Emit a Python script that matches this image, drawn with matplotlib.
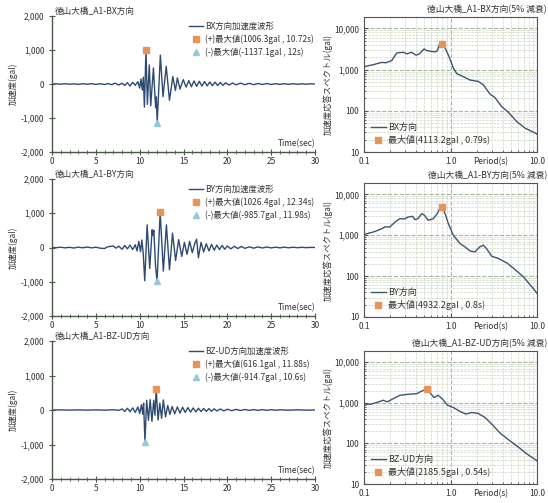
import matplotlib
matplotlib.use("Agg")
import matplotlib.pyplot as plt
from matplotlib.ticker import FuncFormatter, FixedLocator, LogLocator, NullFormatter, MultipleLocator

plt.rcParams['font.family'] = ['Noto Sans CJK JP', 'DejaVu Sans']
plt.rcParams['axes.unicode_minus'] = False

# ---- acceleration time histories (sec, gal) ----
bx_t = [0, 0.5, 1.0, 1.5, 2.0, 2.5, 3.0, 3.5, 4.0, 4.5, 5.0, 5.5, 6.0, 6.4, 6.8, 7.2, 7.6, 8.0, 8.3, 8.6,
        8.9, 9.2, 9.5, 9.8, 10.0, 10.15, 10.3, 10.42, 10.54, 10.72, 10.88, 11.1, 11.26, 11.57, 11.82, 11.9,
        12.0, 12.36, 12.66, 13.03, 13.4, 13.78, 14.08, 14.3, 14.6, 14.97, 15.3, 15.6, 15.9, 16.2, 16.5, 16.8,
        17.1, 17.4, 17.7, 18.0, 18.3, 18.6, 18.9, 19.2, 19.5, 19.8, 20.2, 20.6, 21.0, 21.5, 22.0, 22.5, 23.0,
        23.5, 24.0, 24.5, 25.0, 25.5, 26.0, 26.5, 27.0, 27.5, 28.0, 28.5, 29.0, 29.5, 30.0]
bx_a = [0, 5, -5, 8, -6, 5, -10, 8, -5, 10, -12, 8, -15, 12, -20, 25, -30, 20, -45, 40,
        -60, 50, -40, 70, -120, 150, -180, 200, -680, 1006.3, -600, 560, -640, 470, -700, -380,
        -1137.1, 850, -370, 520, -480, 220, -190, 180, -150, 130, -90, 100, -80, 90, -70, 80,
        -60, 70, -55, 60, -50, 55, -45, 45, -40, 35, -30, 30, -25, 25, -20, 20, -20,
        15, -15, 15, -15, 10, -12, 10, -10, 8, -8, 6, -6, 5, 0]

by_t = [0, 0.5, 1.0, 1.5, 2.0, 2.5, 3.0, 3.5, 4.0, 4.5, 5.0, 5.5, 6.0, 6.3, 6.6, 7.0, 7.3, 7.6, 8.0, 8.3,
        8.6, 8.9, 9.2, 9.5, 9.7, 9.9, 10.1, 10.25, 10.4, 10.58, 10.85, 11.15, 11.42, 11.5, 11.62, 11.8,
        11.98, 12.34, 12.7, 13.05, 13.4, 13.75, 14.1, 14.45, 14.8, 15.1, 15.4, 15.7, 16.0, 16.3, 16.5, 16.7,
        17.0, 17.3, 17.6, 17.9, 18.2, 18.5, 18.8, 19.1, 19.4, 19.7, 20.0, 20.4, 20.8, 21.2, 21.6, 22.0, 22.5,
        23.0, 23.5, 24.0, 24.5, 25.0, 25.5, 26.0, 26.5, 27.0, 27.5, 28.0, 28.5, 29.0, 29.5, 30.0]
by_a = [0, -5, 8, -10, 5, -15, 10, -8, 12, -10, 8, -20, -30, 15, 30, 45, -20, 40, -50, 60,
        -40, 70, -60, 80, -100, 180, -120, 220, -150, -970, 660, -610, 520, 350, 500, -500,
        -985.7, 1026.4, -690, 660, -650, 420, -380, 230, -260, 150, -200, 180, -150, 130, 240, -300,
        150, -130, 110, -100, 90, -80, 70, -60, 60, -50, 45, -40, 35, -30, 30, -25, 20,
        -20, 18, -15, 15, -12, 10, -10, 10, -8, 8, -6, 6, -5, 4, 0]

bz_t = [0, 1, 2, 3, 4, 5, 6, 7, 7.6, 8.0, 8.3, 8.6, 8.9, 9.2, 9.5, 9.8, 10.0, 10.2, 10.35, 10.45,
        10.6, 10.8, 11.0, 11.2, 11.4, 11.6, 11.75, 11.88, 12.1, 12.3, 12.5, 12.7, 12.95, 13.2, 13.45, 13.7,
        14.0, 14.3, 14.6, 14.9, 15.2, 15.5, 15.8, 16.1, 16.4, 16.7, 17.0, 17.3, 17.6, 17.9, 18.2, 18.5,
        18.8, 19.2, 19.6, 20.0, 20.5, 21.0, 21.5, 22.0, 22.5, 23.0, 23.5, 24.0, 24.5, 25.0, 25.5, 26.0,
        27.0, 28.0, 29.0, 30.0]
bz_a = [0, 3, -3, 4, -4, 3, -5, 6, -10, 30, -40, 50, -50, 60, -70, 90, -100, 150, -120, 200,
        -914.7, 280, -300, 300, -330, 280, -150, 616.1, -290, 200, -240, 290, -200, 130, -130, 100,
        -110, 90, -90, 80, -70, 70, -60, 60, -55, 50, -45, 45, -40, 40, -35, 35,
        -30, 28, -25, 22, -20, 18, -15, 15, -12, 12, -10, 10, -8, 8, -6, 6,
        -5, 5, -4, 0]

# peak values: (time, gal)
bx_pos = (10.72, 1006.3)
bx_neg = (12.0, -1137.1)
by_pos = (12.34, 1026.4)
by_neg = (11.98, -985.7)
bz_pos = (11.88, 616.1)
bz_neg = (10.6, -914.7)

# ---- 5% damped acceleration response spectra (s, gal) ----
bx_T = [0.10, 0.128, 0.16, 0.179, 0.209, 0.239, 0.285, 0.312, 0.356, 0.399, 0.437, 0.495, 0.531, 0.579,
        0.662, 0.703, 0.72, 0.743, 0.79, 0.866, 0.968, 1.077, 1.18, 1.41, 1.68, 2.09, 2.39, 2.86, 3.26,
        3.90, 4.65, 5.82, 7.28, 9.5, 10.0]
bx_S = [1180, 1320, 1500, 1470, 1660, 2550, 2640, 2420, 2640, 2240, 2420, 3190, 2900, 2800,
        2700, 2900, 3300, 4070, 4113.2, 3380, 2000, 1100, 800, 675, 560, 520, 430, 255, 211,
        127, 93, 55, 38, 29, 27]

by_T = [0.10, 0.128, 0.153, 0.175, 0.20, 0.228, 0.26, 0.292, 0.325, 0.365, 0.388, 0.42, 0.465, 0.50,
        0.554, 0.632, 0.703, 0.757, 0.80, 0.866, 0.944, 1.077, 1.29, 1.47, 1.68, 1.92, 2.18, 2.39, 2.61,
        2.99, 3.57, 4.48, 5.55, 6.96, 8.7, 10.0]
by_S = [1050, 1200, 1380, 1600, 1600, 2110, 2550, 2500, 2800, 2900, 2420, 2550, 3380, 3080,
        2320, 2550, 3380, 4730, 4932.2, 3380, 1930, 1000, 625, 520, 414, 392, 520, 570, 473,
        308, 270, 211, 146, 96, 55, 38]

bz_T = [0.10, 0.12, 0.14, 0.167, 0.186, 0.218, 0.26, 0.325, 0.406, 0.465, 0.54, 0.579, 0.644, 0.72,
        0.81, 0.92, 1.077, 1.29, 1.51, 1.76, 2.09, 2.5, 2.99, 3.72, 4.65, 6.1, 7.55, 9.9, 10.0]
bz_S = [930, 930, 1020, 1160, 1060, 1270, 1540, 1630, 1680, 1960, 2185.5, 1785, 1350, 1540,
        1230, 877, 770, 614, 530, 580, 550, 438, 302, 182, 125, 81, 56, 38, 37]

bx_peak = (0.79, 4113.2)
by_peak = (0.8, 4932.2)
bz_peak = (0.54, 2185.5)

directions = ['BX', 'BY', 'BZ-UD']
bridge = '徳山大橋_A1-'

rows = [
    (bx_t, bx_a, bx_pos, bx_neg, bx_T, bx_S, bx_peak),
    (by_t, by_a, by_pos, by_neg, by_T, by_S, by_peak),
    (bz_t, bz_a, bz_pos, bz_neg, bz_T, bz_S, bz_peak),
]

W, H = 548, 503
fig = plt.figure(figsize=(W / 100, H / 100), dpi=100)
fig.patch.set_facecolor('white')

# axes boxes in pixels: (left, top, right, bottom)
left_boxes = [(52, 16, 315, 152), (52, 179, 315, 316), (52, 341, 315, 479)]
right_boxes = [(364, 17, 537, 152), (364, 183, 537, 317), (364, 351, 537, 484)]


def add_axes(box):
    l, t, r, b = box
    return fig.add_axes([l / W, 1 - b / H, (r - l) / W, (b - t) / H])


wave_col = '#2f4b72'
spec_col = '#3c566f'
pos_col = '#e8935a'
neg_col = '#93c8df'
axis_col = '#4b5a48'
grid_major = '#a9b99a'
grid_minor = '#cbd6c0'
fs = 6

for i, (d, row) in enumerate(zip(directions, rows)):
    t, a, pos, neg, T, S, peak = row

    # ---------- time history ----------
    ax = add_axes(left_boxes[i])
    ax.plot(t, a, color=wave_col, lw=1.0, label=f'{d}方向加速度波形')
    ax.plot([pos[0]], [pos[1]], ls='none', marker='s', ms=4, color=pos_col,
            label=f'(+)最大値({pos[1]}gal , {pos[0]:g}s)')
    ax.plot([neg[0]], [neg[1]], ls='none', marker='^', ms=4, color=neg_col,
            label=f'(-)最大値({neg[1]}gal , {neg[0]:g}s)')
    ax.set_xlim(0, 30)
    ax.set_ylim(-2000, 2000)
    ax.xaxis.set_major_locator(MultipleLocator(5))
    ax.xaxis.set_minor_locator(MultipleLocator(1))
    ax.yaxis.set_major_locator(MultipleLocator(1000))
    ax.yaxis.set_major_formatter(FuncFormatter(lambda v, p: f'{int(v):,}'))
    for s in ('top', 'right'):
        ax.spines[s].set_visible(False)
    for s in ('left', 'bottom'):
        ax.spines[s].set_color(axis_col)
        ax.spines[s].set_linewidth(1.0)
    ax.tick_params(which='both', direction='inout', colors=axis_col, labelcolor='#333333',
                   labelsize=fs)
    ax.tick_params(axis='x', pad=1.5)
    ax.tick_params(which='major', length=4)
    ax.tick_params(which='minor', length=2.5)
    ax.set_ylabel('加速度(gal)', fontsize=fs, color='#333333', labelpad=2)
    ax.text(0.01, 1.0, f'{bridge}{d}方向', transform=ax.transAxes, fontsize=6.2,
            ha='left', va='bottom', color='#333333')
    ax.text(1.0, 0.03, 'Time(sec)', transform=ax.transAxes, fontsize=fs,
            ha='right', va='bottom', color='#333333')
    leg = ax.legend(loc='upper left', bbox_to_anchor=(0.5, 1.0), frameon=False,
                    fontsize=fs, handlelength=1.6, handletextpad=0.3,
                    labelspacing=0.45, borderpad=0.2)
    for txt in leg.get_texts():
        txt.set_color('#333333')

    # ---------- response spectrum ----------
    ax2 = add_axes(right_boxes[i])
    ax2.plot(T, S, color=spec_col, lw=1.0, label=f'{d}方向')
    ax2.plot([peak[0]], [peak[1]], ls='none', marker='s', ms=4, color=pos_col,
             label=f'最大値({peak[1]}gal , {peak[0]:g}s)')
    ax2.set_xscale('log')
    ax2.set_yscale('log')
    ax2.set_xlim(0.1, 10)
    ax2.set_ylim(10, 19000)
    ax2.xaxis.set_major_locator(FixedLocator([0.1, 1.0, 10.0]))
    ax2.xaxis.set_major_formatter(FuncFormatter(lambda v, p: f'{v:.1f}'))
    ax2.xaxis.set_minor_locator(LogLocator(base=10, subs=range(2, 10)))
    ax2.xaxis.set_minor_formatter(NullFormatter())
    ax2.yaxis.set_major_locator(FixedLocator([10, 100, 1000, 10000]))
    ax2.yaxis.set_major_formatter(FuncFormatter(lambda v, p: f'{int(round(v)):,}'))
    ax2.yaxis.set_minor_locator(LogLocator(base=10, subs=range(2, 10)))
    ax2.yaxis.set_minor_formatter(NullFormatter())
    ax2.grid(which='major', color=grid_major, ls='--', lw=0.8)
    ax2.grid(which='minor', color=grid_minor, ls='--', lw=0.5)
    ax2.set_axisbelow(True)
    for s in ax2.spines.values():
        s.set_color('#555555')
        s.set_linewidth(0.8)
    ax2.tick_params(which='both', direction='in', colors='#555555', labelcolor='#333333',
                    labelsize=fs)
    ax2.tick_params(which='major', length=3)
    ax2.tick_params(which='minor', length=1.5)
    ax2.set_ylabel('加速度応答スペクトル(gal)', fontsize=fs, color='#333333', labelpad=1)
    ax2.text(1.058, 1.02, f'{bridge}{d}方向(5% 減衰)', transform=ax2.transAxes,
             fontsize=6.3, ha='right', va='bottom', color='#333333')
    ax2.text(0.73, -0.035, 'Period(s)', transform=ax2.transAxes, fontsize=fs,
             ha='center', va='top', color='#333333')
    leg2 = ax2.legend(loc='lower left', bbox_to_anchor=(0.0, 0.0), frameon=False,
                      fontsize=6.5, handlelength=1.6, handletextpad=0.3,
                      labelspacing=0.3, borderpad=0.3)
    for txt in leg2.get_texts():
        txt.set_color('#333333')

fig.savefig('out.png', dpi=100, facecolor='white')
